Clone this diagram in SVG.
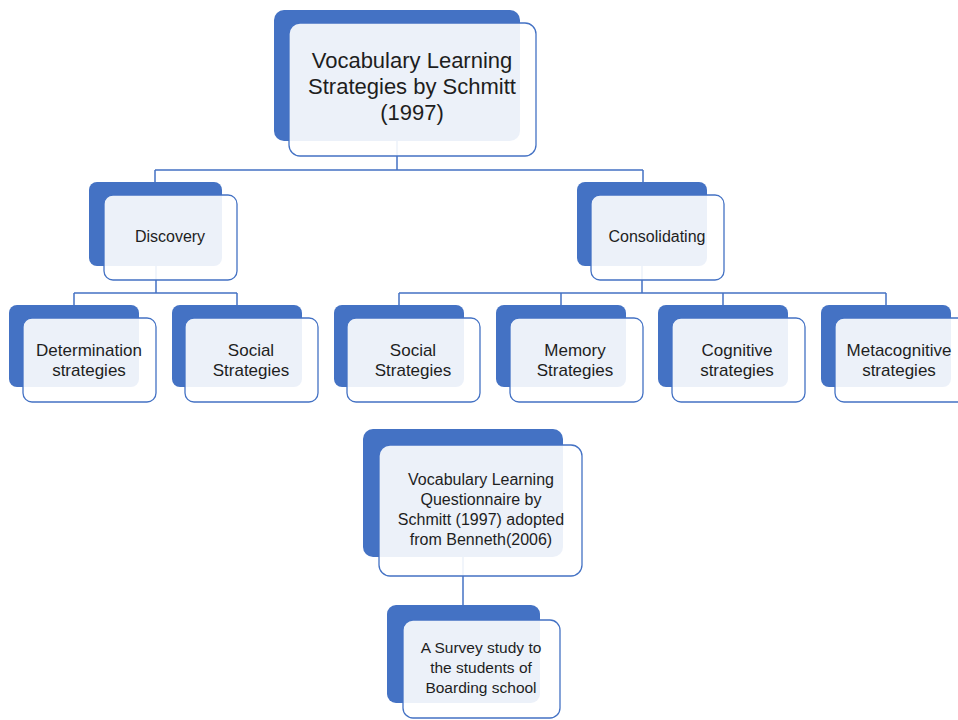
<svg xmlns="http://www.w3.org/2000/svg" width="958" height="720" viewBox="0 0 958 720">
<style>
.back{fill:#4472C4;}
.front{fill:#FFFFFF;fill-opacity:0.9;stroke:#4472C4;stroke-width:1.3;}
.conn{fill:none;stroke:#4472C4;stroke-width:1.5;}
text{font-family:"Liberation Sans",Arial,sans-serif;fill:#1e1e1e;text-anchor:middle;}
.t22{font-size:22px;}
.t17{font-size:17px;}
.t16{font-size:16px;}
.t15{font-size:15.5px;}
</style>
<rect width="958" height="720" fill="#FFFFFF"/>
<g id="connectors">
<path class="conn" d="M397 141 V170 M155 170 H643 M155 170 V182 M643 170 V182"/>
<path class="conn" d="M156 266 V293 M74 293 H237 M74 293 V305 M237 293 V305"/>
<path class="conn" d="M642 266 V293 M399 293 H886 M399 293 V305 M561 293 V305 M723 293 V305 M886 293 V305"/>
<path class="conn" d="M463 557 V605"/>
</g>
<g id="root">
<rect class="back" x="274" y="10" width="246" height="131" rx="10"/>
<rect class="front" x="289" y="23" width="247" height="133" rx="11"/>
<text class="t22" x="412" y="68">Vocabulary Learning</text>
<text class="t22" x="412" y="94">Strategies by Schmitt</text>
<text class="t22" x="412" y="120">(1997)</text>
</g>
<g id="discovery">
<rect class="back" x="89" y="182" width="133" height="84" rx="8"/>
<rect class="front" x="104" y="195" width="133" height="85" rx="9"/>
<text class="t16" x="170" y="242">Discovery</text>
</g>
<g id="consolidating">
<rect class="back" x="577" y="182" width="130" height="84" rx="8"/>
<rect class="front" x="591" y="195" width="133" height="85" rx="9"/>
<text class="t16" x="657" y="242">Consolidating</text>
</g>
<g id="determination">
<rect class="back" x="9" y="305" width="130" height="82" rx="8"/>
<rect class="front" x="23" y="318" width="133" height="84" rx="9"/>
<text class="t17" x="89" y="356">Determination</text>
<text class="t17" x="89" y="376">strategies</text>
</g>
<g id="social1">
<rect class="back" x="172" y="305" width="130" height="82" rx="8"/>
<rect class="front" x="185" y="318" width="133" height="84" rx="9"/>
<text class="t17" x="251" y="356">Social</text>
<text class="t17" x="251" y="376">Strategies</text>
</g>
<g id="social2">
<rect class="back" x="334" y="305" width="130" height="82" rx="8"/>
<rect class="front" x="347" y="318" width="133" height="84" rx="9"/>
<text class="t17" x="413" y="356">Social</text>
<text class="t17" x="413" y="376">Strategies</text>
</g>
<g id="memory">
<rect class="back" x="496" y="305" width="130" height="82" rx="8"/>
<rect class="front" x="510" y="318" width="133" height="84" rx="9"/>
<text class="t17" x="575" y="356">Memory</text>
<text class="t17" x="575" y="376">Strategies</text>
</g>
<g id="cognitive">
<rect class="back" x="658" y="305" width="130" height="82" rx="8"/>
<rect class="front" x="672" y="318" width="133" height="84" rx="9"/>
<text class="t17" x="737" y="356">Cognitive</text>
<text class="t17" x="737" y="376">strategies</text>
</g>
<g id="metacognitive">
<rect class="back" x="821" y="305" width="130" height="82" rx="8"/>
<rect class="front" x="835" y="318" width="133" height="84" rx="9"/>
<text class="t17" x="899" y="356">Metacognitive</text>
<text class="t17" x="899" y="376">strategies</text>
</g>
<g id="questionnaire">
<rect class="back" x="363" y="429" width="200" height="128" rx="10"/>
<rect class="front" x="379" y="445" width="203" height="131" rx="11"/>
<text class="t16" x="481" y="485">Vocabulary Learning</text>
<text class="t16" x="481" y="505">Questionnaire by</text>
<text class="t16" x="481" y="525">Schmitt (1997) adopted</text>
<text class="t16" x="481" y="545">from Benneth(2006)</text>
</g>
<g id="survey">
<rect class="back" x="387" y="605" width="153" height="98" rx="9"/>
<rect class="front" x="403" y="620" width="157" height="98" rx="10"/>
<text class="t15" x="481" y="653">A Survey study to</text>
<text class="t15" x="481" y="673">the students of</text>
<text class="t15" x="481" y="693">Boarding school</text>
</g>
</svg>
